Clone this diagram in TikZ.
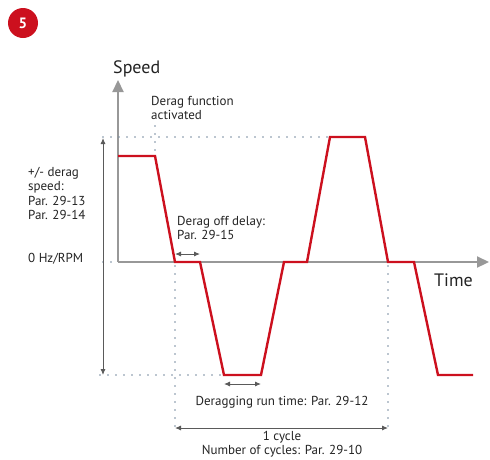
\documentclass[tikz,border=0pt]{standalone}
\usepackage{fontspec}
\setmainfont{PT Sans}
\usetikzlibrary{arrows.meta, positioning}
\definecolor{dfred}{RGB}{204,16,30}
\definecolor{axisgray}{RGB}{152,152,152}
\definecolor{guideblue}{RGB}{120,140,160}
\definecolor{dimgray}{RGB}{90,90,90}
\definecolor{textgray}{RGB}{35,35,35}
\tikzset{
    badge/.style={circle, fill=dfred, minimum size=30pt, inner sep=0pt, text=white, font=\bfseries\fontsize{15}{15}\selectfont},
    axisline/.style={draw=axisgray, line width=2.2pt, -{Triangle[length=12pt, width=11pt]}},
    speedline/.style={draw=dfred, line width=2.4pt, line join=miter},
    guide/.style={draw=guideblue, line width=1.7pt, dash pattern=on 0pt off 8pt, line cap=round},
    dimarrow/.style={draw=dimgray, line width=0.9pt, {Latex[length=6pt, width=5pt]}-{Latex[length=6pt, width=5pt]}},
    lbl/.style={font=\fontsize{13}{14.5}\selectfont, text=textgray, inner sep=0pt, align=left},
    axlbl/.style={font=\fontsize{18}{18}\selectfont, text=textgray, inner sep=0pt}
}

\begin{document}
\begin{tikzpicture}[x=1pt, y=-1pt]
\useasboundingbox (0,0) rectangle (490,459);

\node[badge] (num) at (23,23) {5};

% axes
\coordinate (origin) at (118,262);
\coordinate (ytip) at (118,80);
\coordinate (xtip) at (489,262);
\draw[axisline] (origin) -- (ytip);
\draw[axisline] (origin) -- (xtip);
\node[axlbl, anchor=base west] (speed) at (113,73) {Speed};
\node[axlbl, anchor=base west] (time) at (434,286) {Time};

% guide lines
\coordinate (act) at (155,126);
\coordinate (actend) at (155,154);
\coordinate (hitop) at (103,137);
\coordinate (hitopend) at (330,137);
\coordinate (lobot) at (100,375);
\coordinate (lobotend) at (224,375);
\coordinate (zeroleft) at (103,262);
\coordinate (zeroend) at (113,262);
\coordinate (cycA) at (175,266);
\coordinate (cycAend) at (175,430);
\coordinate (cycB) at (388,266);
\coordinate (cycBend) at (388,430);
\draw[guide] (act) -- (actend);
\draw[guide] (hitop) -- (hitopend);
\draw[guide] (lobot) -- (lobotend);
\draw[guide] (zeroleft) -- (zeroend);
\draw[guide] (cycA) -- (cycAend);
\draw[guide] (cycB) -- (cycBend);

% speed profile
\draw[speedline] (118,156) -- (155,156) -- (175,262) -- (200,262) -- (224,375) -- (261,375)
    -- (284,262) -- (307,262) -- (330,137) -- (365,137) -- (388,262) -- (414,262)
    -- (438,375) -- (473,375);

% dimension arrows
\coordinate (spdhi) at (103,138);
\coordinate (spdlo) at (103,375);
\coordinate (offA) at (175,254);
\coordinate (offB) at (200,254);
\coordinate (runA) at (224,384);
\coordinate (runB) at (261,384);
\coordinate (oneA) at (175,428);
\coordinate (oneB) at (388,428);
\draw[dimarrow] (spdhi) -- (spdlo);
\draw[dimarrow] (offA) -- (offB);
\draw[dimarrow] (runA) -- (runB);
\draw[dimarrow] (oneA) -- (oneB);

% labels
\node[lbl, anchor=north west] (actlbl) at (151,96) {Derag function\\activated};
\node[lbl, anchor=north west] (spdlbl) at (28,167) {+/- derag\\speed:\\Par. 29-13\\Par. 29-14};
\node[lbl, anchor=base west] (zerolbl) at (28,262) {0 Hz/RPM};
\node[lbl, anchor=north west] (offlbl) at (177,216) {Derag off delay:\\Par. 29-15};
\node[lbl, anchor=base] (runlbl) at (282,405) {Deragging run time: Par. 29-12};
\node[lbl, anchor=north, align=center] (cyclbl) at (282,431) {1 cycle\\Number of cycles: Par. 29-10};

\end{tikzpicture}
\end{document}
